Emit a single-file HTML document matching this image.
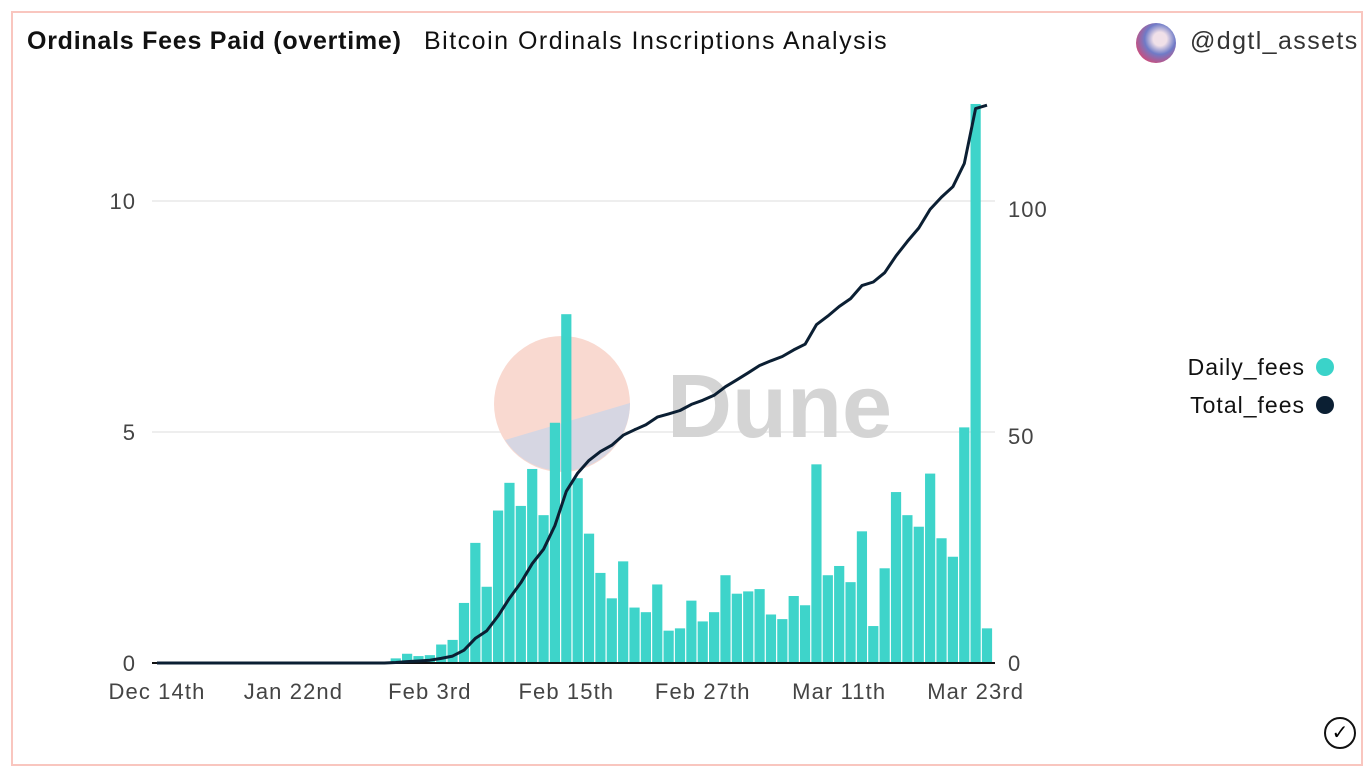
<!DOCTYPE html>
<html><head><meta charset="utf-8"><style>
body{margin:0;background:#fff;width:1372px;height:768px;overflow:hidden;font-family:"Liberation Sans",sans-serif}
#frame{position:absolute;left:11px;top:11px;width:1352px;height:755px;border:2px solid #f9c6bf;box-sizing:border-box}
.t{position:absolute;white-space:nowrap;color:#111}
</style></head><body>
<div id="frame"></div>
<div class="t" style="left:27px;top:27px;font-size:25px;font-weight:bold;letter-spacing:0.75px">Ordinals Fees Paid (overtime)</div>
<div class="t" style="left:424px;top:27px;font-size:25px;letter-spacing:1.5px">Bitcoin Ordinals Inscriptions Analysis</div>
<div style="position:absolute;left:1136px;top:23px;width:40px;height:40px;border-radius:50%;background:radial-gradient(circle at 60% 40%,#f0e0e8 0 20%,#6f7bc7 45%,#c74f7f 75%)"></div>
<div class="t" style="left:1190px;top:27px;font-size:25px;color:#333;letter-spacing:1.4px">@dgtl_assets</div>
<svg id="chart" width="1372" height="768" style="position:absolute;left:0;top:0"></svg>
<div style="position:absolute;left:1324px;top:717px;width:32px;height:32px;border:2px solid #111;border-radius:50%;box-sizing:border-box;text-align:center;line-height:28px;font-size:20px">✓</div>
<script>
const dailyFees=[0,0,0,0,0,0,0,0,0,0,0,0,0,0,0,0,0,0,0,0,0,
0.1,0.2,0.15,0.17,0.4,0.5,1.3,2.6,1.65,3.3,
3.9,3.4,4.2,3.2,5.2,7.55,4.0,2.8,1.95,1.4,
2.2,1.2,1.1,1.7,0.7,0.75,1.35,0.9,1.1,1.9,
1.5,1.55,1.6,1.05,0.95,1.45,1.25,4.3,1.9,2.1,
1.75,2.85,0.8,2.05,3.7,3.2,2.95,4.1,2.7,2.3,
5.1,12.1,0.75];
const totalFees=[0,0,0,0,0,0,0,0,0,0,0,0,0,0,0,0,0,0,0,0,0,
0.1,0.3,0.45,0.62,1.02,1.52,2.82,5.42,7.07,10.37,
14.27,17.67,21.87,25.07,30.27,37.82,41.82,44.62,46.57,47.97,
50.17,51.37,52.47,54.17,54.87,55.62,56.97,57.87,58.97,60.87,
62.37,63.92,65.52,66.57,67.52,68.97,70.22,74.52,76.42,78.52,
80.27,83.12,83.92,85.97,89.67,92.87,95.82,99.92,102.62,104.92,
110.02,122.12,122.87];
const tickLabels=["Dec 14th","Jan 22nd","Feb 3rd","Feb 15th","Feb 27th","Mar 11th","Mar 23rd"];
const tickIndex=[0,12,24,36,48,60,72];
const leftTicks=[0,5,10];
const rightTicks=[0,50,100];
const NS="http://www.w3.org/2000/svg";
const svg=document.getElementById('chart');
const x0=151.3,step=11.37;
const xc=i=>x0+step*(i+0.5);
const yL=v=>663-v*46.2;
const yR=v=>663-v*4.54;
function mk(tag,attrs,parent){const e=document.createElementNS(NS,tag);for(const k in attrs)e.setAttribute(k,attrs[k]);(parent||svg).appendChild(e);return e;}
leftTicks.forEach(v=>{
  if(v>0){const g=mk('line',{x1:152,x2:995,y1:yL(v),y2:yL(v),stroke:'#eeeeee','stroke-width':2});
  
  }
  const t=mk('text',{x:136,y:yL(v)+8,'text-anchor':'end','font-size':22,fill:'#444','font-family':'Liberation Sans','letter-spacing':1});
  t.textContent=v;
  
  
});
rightTicks.forEach(v=>{
  const t=mk('text',{x:1008,y:yR(v)+8,'font-size':22,fill:'#444','font-family':'Liberation Sans','letter-spacing':1});
  t.textContent=v;
  
  
});
const wm=mk('g',{});


mk('circle',{cx:562,cy:404,r:68,fill:'#f9d9d0'},wm);
mk('path',{d:'M505,440 L630,403 A68,68 0 0 1 505,440 Z',fill:'#d6d6e2'},wm);
const dt=mk('text',{x:667,y:437,'font-size':90,'font-weight':'bold',fill:'#d4d4d4','font-family':'Liberation Sans'},wm);
dt.textContent='Dune';
dailyFees.forEach((v,i)=>{
  if(v<=0)return;
  const r=mk('rect',{x:xc(i)-5.1,y:yL(v),width:10.2,height:663-yL(v),fill:'#3ad3c9','fill-opacity':0.98});
  
  
});
const ax=mk('line',{x1:152,x2:995,y1:663,y2:663,stroke:'#111','stroke-width':2});


const pts=totalFees.map((v,i)=>(i==0?'M':'L')+xc(i).toFixed(1)+','+yR(v).toFixed(1)).join(' ');
const ln=mk('path',{d:pts,fill:'none',stroke:'#0b1f33','stroke-width':3,'stroke-linejoin':'round'});


tickIndex.forEach((idx,k)=>{
  const t=mk('text',{x:xc(idx),y:699,'text-anchor':'middle','font-size':22,fill:'#444','font-family':'Liberation Sans','letter-spacing':1.1});
  t.textContent=tickLabels[k];
  
  
});
const legend=[["Daily_fees","#3ad3c9",367],["Total_fees","#0b1f33",405]];
legend.forEach(l=>{
  const t=mk('text',{x:1305,y:l[2]+8,'text-anchor':'end','font-size':23,fill:'#111','font-family':'Liberation Sans','letter-spacing':1});
  t.textContent=l[0];
  
  
  const c=mk('circle',{cx:1325,cy:l[2],r:9,fill:l[1]});
  
  
});
</script>
</body></html>
